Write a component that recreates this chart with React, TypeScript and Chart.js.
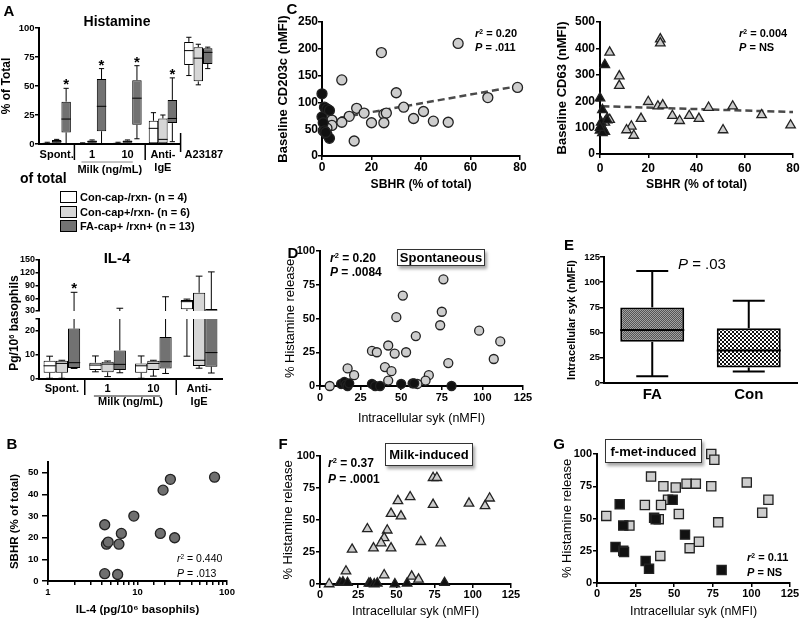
import React, { useEffect, useRef } from 'react';
import { Chart, registerables } from 'chart.js';
Chart.register(...registerables);

const FONT = '"Liberation Sans", Arial, Helvetica, sans-serif';
Chart.defaults.font.family = FONT;
Chart.defaults.color = '#000';

// ================= DATA =================
// Panel A – histamine release box plots: [min, q1, median, q3, max]
const histGroups: any[] = ['Spont.', '1', '10', ['Anti-', 'IgE'], 'A23187'];
const histConNeg = [[0, 0, 0.5, 1, 1.5], [0, 0, 0.3, 0.7, 1], [0, 0, 0.5, 1, 1.5], [0, 0, 13.5, 20, 27], [59, 68, 80.5, 88, 92]];
const histConPos = [[0.5, 1, 2, 3.5, 4], [0.5, 1, 2, 3, 3.5], [0.5, 1, 2, 3, 3.5], [0, 0, 4, 22, 25], [51, 54, 74, 83.5, 86]];
const histFA = [[0, 10, 21.5, 36.5, 48], [0, 11, 32.5, 56, 65], [4.5, 16.5, 39.5, 55, 67.5], [2, 18, 22, 38, 57], [65, 69, 79, 82.5, 83.5]];
const histStars = [true, true, true, true, false];
const histTicks = [0, 25, 50, 75, 100];

// Panel A – IL-4 box plots
const il4Groups: any[] = ['Spont.', '1', '10', ['Anti-', 'IgE']];
const il4ConNeg = [[0.3, 2.6, 5.5, 7.6, 9.5], [3, 3.7, 5.8, 6.8, 9.6], [0.3, 2.6, 5.5, 6.5, 9.6], [9.5, 34, 52, 56, 58]];
const il4ConPos = [[0.3, 2.6, 6.5, 7.6, 7.8], [1, 2.8, 6.2, 7.2, 7.5], [1.2, 3.7, 6.5, 7.6, 7.8], [4.5, 5.4, 7.8, 73, 112]];
const il4FA = [[4.4, 4.6, 6.8, 21, 74], [2.6, 3.7, 6.1, 11.9, 36.5], [2.3, 4.4, 7.2, 17.5, 63.5], [2.5, 5.1, 11, 34.7, 122]];
const il4Stars = [true, false, false, false];
const il4UpperTicks = [30, 60, 90, 120, 150];
const il4LowerTicks = [0, 10, 20, 25];
const milkLabel = 'Milk (ng/mL)';

const legendLabels = ['Con-cap-/rxn- (n = 4)', 'Con-cap+/rxn- (n = 6)', 'FA-cap+ /rxn+ (n = 13)'];
const seriesColors = ['#ffffff', '#d6d6d6', '#727272'];

// Panel B – SBHR vs IL-4
const bIL4 = [4.3, 4.5, 4.7, 6.2, 6.6, 9.1, 4.3, 6.0, 18, 19.3, 23.3, 26, 72.6];
const bSBHR = [26, 17, 18, 17, 22, 30, 3.4, 3, 22, 42, 47, 20, 48];
const bYTicks = [0, 10, 20, 30, 40, 50];

// Panel C – CD203c vs SBHR
const cFA = [[55, 210], [24, 193], [8, 142], [30, 118], [79, 128], [67, 109], [14, 89], [33, 91], [41, 83], [37, 70], [45, 65], [51, 63], [11, 74], [17, 80], [25, 78], [26, 80], [20, 62], [25, 62], [8, 63], [13, 28], [4, 67], [4, 57], [2, 52], [0.5, 47], [1.5, 44]];
const cCon = [[0, 116], [0, 73], [1, 91], [2, 88], [3, 85], [0.5, 62], [1, 47], [2, 40], [3, 33], [1.5, 44]];
const cTrend = [[3, 68], [80, 131]];
const cYTicks = [0, 50, 100, 150, 200, 250];
const sbhrTicks = [0, 20, 40, 60, 80];

// Panel C – CD63 vs SBHR
const c63FA = [[25, 435], [25, 420], [4, 385], [8, 295], [8, 259], [20, 198], [24, 181], [26, 185], [30, 145], [33, 126], [37, 145], [41, 134], [45, 176], [55, 181], [51, 91], [67, 148], [79, 109], [17, 134], [13, 105], [11, 91], [14, 70], [3, 135], [4, 130], [2, 120]];
const c63Con = [[0, 212], [2, 338], [1, 167], [0, 90], [1, 100], [2, 85], [0.5, 120], [3, 128], [1, 80], [0, 100]];
const c63Trend = [[1, 181], [80, 159]];
const c63YTicks = [0, 100, 200, 300, 400, 500];

// Panel D – spontaneous release vs syk
const dFA = [[76, 79], [51, 67], [75, 55], [47, 51], [74, 45], [98, 41], [59, 37], [111, 33], [42, 30], [32, 26], [35, 25], [53, 25], [46, 24], [107, 20], [79, 17], [40, 14], [17, 13], [44, 11], [21, 8], [67, 8], [42, 4], [65, 4], [6, 0], [60, 1.5]];
const dCon = [[13, 1.5], [15, 3], [16, 1], [17, 0], [18, 2], [32, 1.5], [34, 0], [37, 0], [50, 1.5], [57, 2], [58, 2], [81, 0]];

// Panel E – syk by group
const eGroups = ['FA', 'Con'];
const eStats = [[6.6, 40.8, 52.6, 75, 111], [11.5, 15.5, 32.2, 54.3, 81.6]];
const eTicks = [0, 25, 50, 75, 100, 125];

// Panel F – milk-induced release vs syk
const fFA = [[74, 83], [76.5, 83], [59, 68], [51, 65], [111, 67], [97.5, 63], [108, 61], [74, 62], [46.5, 55], [53, 53], [31, 43], [44, 42], [42, 36], [40, 32], [66, 33], [79, 32], [35, 28], [46.5, 28], [21, 27], [17, 10], [42, 7], [60, 6], [64.5, 3.6], [6, 0]];
const fCon = [[13, 1], [15, 1.5], [18, 1], [32, 0.5], [33, 0.5], [35.5, 0], [37.5, 0.5], [49, 0], [57, 0.5], [81.5, 1]];

// Panel G – f-met-induced release vs syk
const gFA = [[74, 100], [76, 95.5], [35, 82.5], [97, 78], [58, 77], [64, 77], [43, 75], [51, 74], [74, 75], [111, 64.5], [46, 64.5], [31, 60.5], [41.5, 60.5], [107, 54.5], [53, 53.5], [6, 52], [40, 49.5], [78.5, 47], [21, 44.5], [66, 32], [60, 27], [41, 21]];
const gCon = [[14.7, 61], [49, 64.5], [37, 50.5], [38, 49.5], [17, 44.5], [57, 37.5], [12, 28], [17, 25], [17.5, 24], [31.5, 17], [33.7, 11], [80.7, 10]];

const pctTicks = [0, 25, 50, 75, 100];
const sykTicks = [0, 25, 50, 75, 100, 125];

// ================= LAYOUT =================
type Frame = { l: number; t: number; r: number; b: number; yw: number; pt: number; pr: number; xh: number };
const FR: Record<string, Frame> = {
  hist: { l: 39, t: 28, r: 216, b: 144, yw: 45, pt: 10, pr: 12, xh: 38 },
  il4u: { l: 39, t: 260, r: 222, b: 311, yw: 45, pt: 10, pr: 12, xh: 8 },
  il4l: { l: 39, t: 319, r: 222, b: 379, yw: 45, pt: 10, pr: 12, xh: 36 },
  b: { l: 48, t: 462, r: 227, b: 581, yw: 40, pt: 10, pr: 14, xh: 38 },
  c: { l: 322, t: 22, r: 520, b: 156, yw: 50, pt: 12, pr: 14, xh: 40 },
  c63: { l: 600, t: 22, r: 793, b: 154, yw: 48, pt: 12, pr: 12, xh: 42 },
  d: { l: 320, t: 251, r: 523, b: 386, yw: 45, pt: 12, pr: 14, xh: 42 },
  e: { l: 604, t: 257, r: 797, b: 383, yw: 42, pt: 12, pr: 3, xh: 26 },
  f: { l: 320, t: 456, r: 511, b: 584, yw: 45, pt: 12, pr: 14, xh: 38 },
  g: { l: 597, t: 454, r: 790, b: 583, yw: 45, pt: 12, pr: 12, xh: 39 },
};
const rectOf = (f: Frame) => ({ left: f.l - f.yw, top: f.t - f.pt, width: f.r - f.l + f.yw + f.pr, height: f.b - f.t + f.pt + f.xh });

function yAxis(f: Frame, o: any) {
  const rc = rectOf(f);
  const ts = o.titleSize || 12;
  const lh = ts * 1.2;
  return {
    type: 'linear', position: 'left', min: o.min, max: o.max,
    afterFit: (s: any) => { s.width = f.yw; },
    afterBuildTicks: (s: any) => { s.ticks = o.ticks.map((v: number) => ({ value: v })); },
    grid: { display: true, drawOnChartArea: false, drawTicks: true, tickLength: o.tl ?? 4, color: '#000', lineWidth: 1.5 },
    border: { display: true, color: '#000', width: 2 },
    ticks: { autoSkip: false, padding: o.pad ?? 1, color: '#000', font: { family: FONT, size: o.size, weight: 'bold' }, callback: o.cb || ((v: any) => String(v)) },
    title: o.title
      ? { display: true, text: o.title, color: '#000', font: { family: FONT, size: ts, weight: o.titleBold ? 'bold' : 'normal' }, padding: { top: o.titleAt - rc.left - lh / 2, bottom: 0 } }
      : { display: false },
  };
}

function xAxis(f: Frame, o: any) {
  const rc = rectOf(f);
  const ts = o.titleSize || 12;
  const lh = ts * 1.2;
  const ax: any = {
    type: o.type || 'linear', position: 'bottom', min: o.min, max: o.max,
    afterFit: (s: any) => { s.height = f.xh; },
    grid: { display: true, drawOnChartArea: false, drawTicks: true, tickLength: o.tl ?? 4, color: '#000', lineWidth: 1.5 },
    border: { display: true, color: '#000', width: 2 },
    ticks: { autoSkip: false, maxRotation: 0, minRotation: 0, padding: o.pad ?? 1, color: '#000', font: { family: FONT, size: o.size, weight: 'bold' }, callback: o.cb || ((v: any) => String(v)) },
    title: o.title
      ? { display: true, text: o.title, color: '#000', font: { family: FONT, size: ts, weight: o.titleBold ? 'bold' : 'normal' }, padding: { top: 0, bottom: rc.top + rc.height - lh / 2 - o.titleAt } }
      : { display: false },
  };
  if (o.ticks) ax.afterBuildTicks = (s: any) => { s.ticks = o.ticks.map((v: number) => ({ value: v })); };
  return ax;
}

function catAxis(f: Frame, o: any) {
  const hide: number[] = o.hide || [];
  return {
    type: 'category', offset: true, position: 'bottom',
    afterFit: (s: any) => { s.height = f.xh; },
    grid: { display: false, drawTicks: false },
    border: { display: o.border !== false, color: '#000', width: 2 },
    ticks: {
      display: o.show !== false, autoSkip: false, maxRotation: 0, minRotation: 0, padding: o.pad ?? 3, color: '#000',
      font: { family: FONT, size: o.size || 11, weight: 'bold' },
      callback: function (this: any, v: any, i: number) { return hide.includes(i) ? '' : this.getLabelForValue(v); },
    },
  };
}

// ================= PLUGINS =================
const boxPlugin = {
  id: 'boxWhisker',
  afterDatasetsDraw(chart: any, _a: any, o: any) {
    const { ctx, chartArea: ca } = chart;
    const ys = chart.scales.y;
    ctx.save();
    if (o.clip) { ctx.beginPath(); ctx.rect(ca.left - 3, ca.top, ca.right - ca.left + 6, ca.bottom - ca.top); ctx.clip(); }
    ctx.strokeStyle = '#000';
    ctx.lineWidth = o.lw || 1;
    const seg = (x1: number, y1: number, x2: number, y2: number) => { ctx.beginPath(); ctx.moveTo(x1, y1); ctx.lineTo(x2, y2); ctx.stroke(); };
    chart.data.datasets.forEach((ds: any, di: number) => {
      const meta = chart.getDatasetMeta(di);
      meta.data.forEach((bar: any, i: number) => {
        const s = ds.stats[i];
        const { x, width } = bar.getProps(['x', 'width'], true);
        const cap = (width * (o.cap || 0.5)) / 2;
        const half = width / 2;
        const py = (v: number) => ys.getPixelForValue(v);
        seg(x, py(s[3]), x, py(s[4])); seg(x - cap, py(s[4]), x + cap, py(s[4]));
        seg(x, py(s[1]), x, py(s[0])); seg(x - cap, py(s[0]), x + cap, py(s[0]));
        seg(x - half, py(s[2]), x + half, py(s[2]));
        if (ds.stars && ds.stars[i]) {
          ctx.fillStyle = '#000'; ctx.font = `bold 15px ${FONT}`; ctx.textAlign = 'center'; ctx.textBaseline = 'alphabetic';
          ctx.fillText('*', x, py(s[4]) + 1);
        }
      });
    });
    ctx.restore();
  },
};

const groupDeco = {
  id: 'groupDeco',
  afterDraw(chart: any, _a: any, o: any) {
    if (!o || !o.seps) return;
    const xs = chart.scales.x;
    const ctx = chart.ctx;
    const bot = chart.chartArea.bottom;
    const px = (i: number) => xs.getPixelForValue(i);
    const bound = (i: number) => (px(i) + px(i + 1)) / 2;
    const gw = px(1) - px(0);
    ctx.save();
    if (o.axisTo !== undefined) {
      ctx.strokeStyle = '#000'; ctx.lineWidth = 2;
      ctx.beginPath(); ctx.moveTo(chart.chartArea.left - 1, bot); ctx.lineTo(bound(o.axisTo), bot); ctx.stroke();
    }
    ctx.strokeStyle = '#000'; ctx.lineWidth = 1.5;
    o.seps.forEach((i: number) => {
      const x = bound(i);
      const up = i === o.breakSep ? 11 : 0;
      const down = i === o.breakSep ? 8 : o.sepLen;
      ctx.beginPath(); ctx.moveTo(x, bot - up); ctx.lineTo(x, bot + down); ctx.stroke();
    });
    const [a, b] = o.milk;
    ctx.strokeStyle = o.lineColor; ctx.lineWidth = 1;
    ctx.beginPath(); ctx.moveTo(px(a) - 0.3 * gw, bot + o.lineDy); ctx.lineTo(px(b) + 0.15 * gw, bot + o.lineDy); ctx.stroke();
    ctx.fillStyle = '#000'; ctx.font = `bold 11px ${FONT}`; ctx.textBaseline = 'middle';
    ctx.textAlign = 'center';
    ctx.fillText(o.text, (px(a) + px(b)) / 2, bot + o.textDy);
    if (o.freeLabel !== undefined) {
      ctx.textAlign = 'left';
      ctx.fillText(String(chart.data.labels[o.freeLabel]), bound(o.freeLabel - 1) + 4, bot + 11);
    }
    ctx.restore();
  },
};

// ================= CONFIG BUILDERS =================
const baseOpts = (f: Frame) => ({
  animation: false, responsive: false, events: [],
  layout: { padding: { left: 0, top: f.pt, right: f.pr, bottom: 0 } },
});

function boxSeries(list: any[], clip: boolean, bw = 1, barPct = 1, catPct = 0.8) {
  return list.map((s: any) => ({
    data: s.stats.map((v: number[]) => [v[1], v[3]]),
    stats: s.stats, stars: s.stars,
    backgroundColor: s.color, borderColor: '#000', borderWidth: bw, borderSkipped: false,
    barPercentage: barPct, categoryPercentage: catPct,
    clip: clip ? 0 : false,
  }));
}

function makeHist() {
  const f = FR.hist;
  return {
    type: 'bar',
    data: {
      labels: histGroups,
      datasets: boxSeries([
        { stats: histConNeg, color: seriesColors[0] },
        { stats: histConPos, color: seriesColors[1] },
        { stats: histFA, color: seriesColors[2], stars: histStars },
      ], false),
    },
    options: {
      ...baseOpts(f),
      plugins: {
        legend: { display: false }, tooltip: { enabled: false },
        boxWhisker: { lw: 1, cap: 0.55 },
        groupDeco: { seps: [0, 2, 3], sepLen: 16, breakSep: 3, axisTo: 3, freeLabel: 4, milk: [1, 2], lineDy: 18, textDy: 26, lineColor: '#888', text: milkLabel },
      },
      scales: {
        x: catAxis(f, { pad: 4.4, size: 11, border: false, hide: [4] }),
        y: yAxis(f, { min: 0, max: 100, ticks: histTicks, size: 9.5, tl: 4, pad: 0.5, title: '% of Total', titleSize: 12, titleBold: true, titleAt: 7 }),
      },
    },
    plugins: [boxPlugin, groupDeco],
  };
}

function il4Datasets() {
  return boxSeries([
    { stats: il4ConNeg, color: seriesColors[0] },
    { stats: il4ConPos, color: seriesColors[1] },
    { stats: il4FA, color: seriesColors[2], stars: il4Stars },
  ], true);
}

function makeIl4Upper() {
  const f = FR.il4u;
  return {
    type: 'bar',
    data: { labels: il4Groups, datasets: il4Datasets() },
    options: {
      ...baseOpts(f),
      plugins: { legend: { display: false }, tooltip: { enabled: false }, boxWhisker: { lw: 1, cap: 0.55, clip: true } },
      scales: {
        x: catAxis(f, { show: false, border: false }),
        y: yAxis(f, { min: 30, max: 150, ticks: il4UpperTicks, size: 9, tl: 3.5, pad: 0.5 }),
      },
    },
    plugins: [boxPlugin],
  };
}

function makeIl4Lower() {
  const f = FR.il4l;
  return {
    type: 'bar',
    data: { labels: il4Groups, datasets: il4Datasets() },
    options: {
      ...baseOpts(f),
      plugins: {
        legend: { display: false }, tooltip: { enabled: false },
        boxWhisker: { lw: 1, cap: 0.55, clip: true },
        groupDeco: { seps: [0, 2], sepLen: 16, milk: [1, 2], lineDy: 17, textDy: 23, lineColor: '#222', text: milkLabel },
      },
      scales: {
        x: catAxis(f, { pad: 3.4, size: 11 }),
        y: yAxis(f, { min: 0, max: 25, ticks: il4LowerTicks, size: 9, tl: 3.5, pad: 0.5, cb: (v: number) => (v === 25 ? '' : String(v)) }),
      },
    },
    plugins: [boxPlugin, groupDeco],
  };
}

const xy = (arr: number[][]) => arr.map(([x, y]) => ({ x, y }));
function marks(data: any[], style: string, r: number, fill: string) {
  return { data, pointStyle: style, pointRadius: r, pointBackgroundColor: fill, pointBorderColor: '#222', pointBorderWidth: 1.3, showLine: false, clip: false };
}
function trend(data: number[][]) {
  return { data: xy(data), showLine: true, pointRadius: 0, borderColor: '#4a4a4a', borderWidth: 2.5, borderDash: [7, 4], clip: false };
}
function scatterCfg(f: Frame, datasets: any[], xo: any, yo: any) {
  return {
    type: 'scatter',
    data: { datasets },
    options: {
      ...baseOpts(f),
      plugins: { legend: { display: false }, tooltip: { enabled: false } },
      scales: { x: xAxis(f, xo), y: yAxis(f, yo) },
    },
  };
}

const OPEN = '#cdcdcd';
const BLACK = '#111111';

function makeB() {
  const f = FR.b;
  const pts = bIL4.map((x, i) => ({ x, y: bSBHR[i] }));
  return scatterCfg(f, [marks(pts, 'circle', 5, '#6f6f6f')],
    { type: 'logarithmic', min: 1, max: 100, size: 9.5, tl: 4, pad: 1.3, cb: (v: number) => ([1, 10, 100].includes(v) ? String(v) : ''), title: 'IL-4 (pg/10⁶ basophils)', titleSize: 11.5, titleBold: true, titleAt: 610 },
    { min: 0, max: 55, ticks: bYTicks, size: 9.5, tl: 6, pad: 3.5, title: 'SBHR (% of total)', titleSize: 11.5, titleBold: true, titleAt: 15 });
}

function makeC() {
  const f = FR.c;
  return scatterCfg(f, [marks(xy(cCon), 'circle', 5, BLACK), marks(xy(cFA), 'circle', 5, OPEN), trend(cTrend)],
    { min: 0, max: 80, ticks: sbhrTicks, size: 12, tl: 4, pad: 0.8, title: 'SBHR (% of total)', titleSize: 12.2, titleBold: true, titleAt: 185 },
    { min: 0, max: 250, ticks: cYTicks, size: 12, tl: 4, pad: 0, title: 'Baseline CD203c (nMFI)', titleSize: 13, titleBold: true, titleAt: 283 });
}

function makeC63() {
  const f = FR.c63;
  return scatterCfg(f, [marks(xy(c63Con), 'triangle', 5.5, BLACK), marks(xy(c63FA), 'triangle', 5.5, OPEN), trend(c63Trend)],
    { min: 0, max: 80, ticks: sbhrTicks, size: 12, tl: 4, pad: 3, title: 'SBHR (% of total)', titleSize: 12.2, titleBold: true, titleAt: 185 },
    { min: 0, max: 500, ticks: c63YTicks, size: 12, tl: 4, pad: 1, title: 'Baseline CD63 (nMFI)', titleSize: 13, titleBold: true, titleAt: 562 });
}

function sykScatter(f: Frame, con: any, fa: any, xTitleAt: number, yTitleAt: number, xpad: number) {
  return scatterCfg(f, [con, fa],
    { min: 0, max: 125, ticks: sykTicks, size: 11, tl: 4, pad: xpad, title: 'Intracellular syk (nMFI)', titleSize: 12.5, titleBold: false, titleAt: xTitleAt },
    { min: 0, max: 100, ticks: pctTicks, size: 11, tl: 4, pad: 1, title: '% Histamine release', titleSize: 13, titleBold: false, titleAt: yTitleAt });
}
const makeD = () => sykScatter(FR.d, marks(xy(dCon), 'circle', 4.5, BLACK), marks(xy(dFA), 'circle', 4.5, OPEN), 419, 290, 1.4);
const makeF = () => sykScatter(FR.f, marks(xy(fCon), 'triangle', 5.5, BLACK), marks(xy(fFA), 'triangle', 5.5, OPEN), 612, 288, 0);
const makeG = () => sykScatter(FR.g, marks(xy(gCon), 'rect', 6.5, BLACK), marks(xy(gFA), 'rect', 6.5, OPEN), 612, 567, 0.7);

function checker(c1: string, c2: string, cell: number) {
  const cv = document.createElement('canvas');
  cv.width = cell * 2; cv.height = cell * 2;
  const g = cv.getContext('2d') as CanvasRenderingContext2D;
  g.fillStyle = c1; g.fillRect(0, 0, cell * 2, cell * 2);
  g.fillStyle = c2; g.fillRect(0, 0, cell, cell); g.fillRect(cell, cell, cell, cell);
  return g.createPattern(cv, 'repeat');
}

function makeE() {
  const f = FR.e;
  return {
    type: 'bar',
    data: {
      labels: eGroups,
      datasets: [{
        data: eStats.map((v) => [v[1], v[3]]), stats: eStats,
        backgroundColor: [checker('#a2a2a2', '#555555', 1), checker('#ffffff', '#111111', 2)],
        borderColor: '#000', borderWidth: 2, borderSkipped: false, barPercentage: 0.663, categoryPercentage: 1, clip: false,
      }],
    },
    options: {
      ...baseOpts(f),
      plugins: { legend: { display: false }, tooltip: { enabled: false }, boxWhisker: { lw: 2, cap: 0.5 } },
      scales: {
        x: catAxis(f, { pad: 3, size: 15 }),
        y: yAxis(f, { min: 0, max: 125, ticks: eTicks, size: 9.5, tl: 4, pad: 0, title: 'Intracellular syk (nMFI)', titleSize: 11, titleBold: true, titleAt: 572 }),
      },
    },
    plugins: [boxPlugin],
  };
}

// ================= COMPONENTS =================
function ChartBox({ frame, make }: { frame: Frame; make: () => any }) {
  const ref = useRef<HTMLCanvasElement | null>(null);
  useEffect(() => {
    const chart = new Chart(ref.current as HTMLCanvasElement, make());
    return () => chart.destroy();
  }, []);
  const r = rectOf(frame);
  return <canvas ref={ref} width={r.width} height={r.height} style={{ position: 'absolute', left: r.left, top: r.top, width: r.width, height: r.height }} />;
}

function Txt(p: any) {
  const tx = p.anchor === 'middle' ? '-50%' : p.anchor === 'end' ? '-100%' : '0';
  return (
    <div style={{
      position: 'absolute', left: p.x, top: p.y,
      transform: `translate(${tx},-50%)${p.rotate ? ' rotate(-90deg)' : ''}`,
      fontFamily: FONT, fontSize: p.size, fontWeight: p.bold ? 700 : 400, lineHeight: 1, whiteSpace: 'pre', color: '#000',
    }}>{p.children}</div>
  );
}

const Sup = ({ c }: { c: string }) => <span style={{ fontSize: '0.62em', position: 'relative', top: '-0.5em' }}>{c}</span>;

function Stat({ x, y, gap, size, bold, r2, p }: any) {
  return (
    <>
      <Txt x={x} y={y} size={size} bold={bold}><i>r</i><Sup c="2" /> = {r2}</Txt>
      <Txt x={x} y={y + gap} size={size} bold={bold}><i>P</i> = {p}</Txt>
    </>
  );
}

function TagBox({ x, y, w, h, text }: any) {
  return (
    <div style={{
      position: 'absolute', left: x, top: y, width: w, height: h, boxSizing: 'border-box',
      border: '1.5px solid #333', background: '#fff', boxShadow: '2px 3px 3px rgba(0,0,0,0.35)',
      display: 'flex', alignItems: 'center', justifyContent: 'center',
      fontFamily: FONT, fontWeight: 700, fontSize: 13, color: '#000', whiteSpace: 'nowrap',
    }}>{text}</div>
  );
}

const letters: [string, number, number][] = [['A', 9, 10], ['B', 12, 443], ['C', 292, 8], ['D', 293, 252], ['E', 569, 244], ['F', 283, 443], ['G', 559, 443]];
const legendRows = [197, 211.5, 225.5];

export default function App() {
  return (
    <div style={{ position: 'absolute', left: 0, top: 0, width: 800, height: 621, overflow: 'hidden', background: '#fff' }}>
      <ChartBox frame={FR.hist} make={makeHist} />
      <ChartBox frame={FR.il4u} make={makeIl4Upper} />
      <ChartBox frame={FR.il4l} make={makeIl4Lower} />
      <ChartBox frame={FR.b} make={makeB} />
      <ChartBox frame={FR.c} make={makeC} />
      <ChartBox frame={FR.c63} make={makeC63} />
      <ChartBox frame={FR.d} make={makeD} />
      <ChartBox frame={FR.e} make={makeE} />
      <ChartBox frame={FR.f} make={makeF} />
      <ChartBox frame={FR.g} make={makeG} />

      {letters.map(([t, x, y]) => <Txt key={t} x={x} y={y} size={15} bold anchor="middle">{t}</Txt>)}

      <Txt x={117} y={21} size={14} bold anchor="middle">Histamine</Txt>
      <Txt x={117} y={257} size={15} bold anchor="middle">IL-4</Txt>
      <Txt x={20} y={178} size={14} bold>of total</Txt>
      <Txt x={14} y={323} size={12} bold anchor="middle" rotate>Pg/10<Sup c="6" /> basophils</Txt>

      {legendLabels.map((lab, i) => (
        <React.Fragment key={lab}>
          <div style={{ position: 'absolute', left: 60, top: legendRows[i] - 6, width: 17, height: 12, boxSizing: 'border-box', border: '1px solid #000', background: seriesColors[i] }} />
          <Txt x={80} y={legendRows[i]} size={11} bold>{lab}</Txt>
        </React.Fragment>
      ))}

      <Stat x={177} y={558} gap={15} size={10.5} r2="0.440" p=".013" />
      <Stat x={475} y={33} gap={14} size={11} bold r2="0.20" p=".011" />
      <Stat x={739} y={33} gap={14} size={11} bold r2="0.004" p="NS" />
      <Stat x={330} y={258} gap={14} size={12} bold r2="0.20" p=".0084" />
      <Stat x={328} y={463} gap={16} size={12} bold r2="0.37" p=".0001" />
      <Stat x={747} y={557} gap={15} size={11} bold r2="0.11" p="NS" />
      <Txt x={678} y={263} size={15}><i>P</i> = .03</Txt>

      <TagBox x={397} y={249} w={88} h={17} text="Spontaneous" />
      <TagBox x={385} y={443} w={88} h={23} text="Milk-induced" />
      <TagBox x={605} y={439} w={97} h={24} text="f-met-induced" />
    </div>
  );
}
